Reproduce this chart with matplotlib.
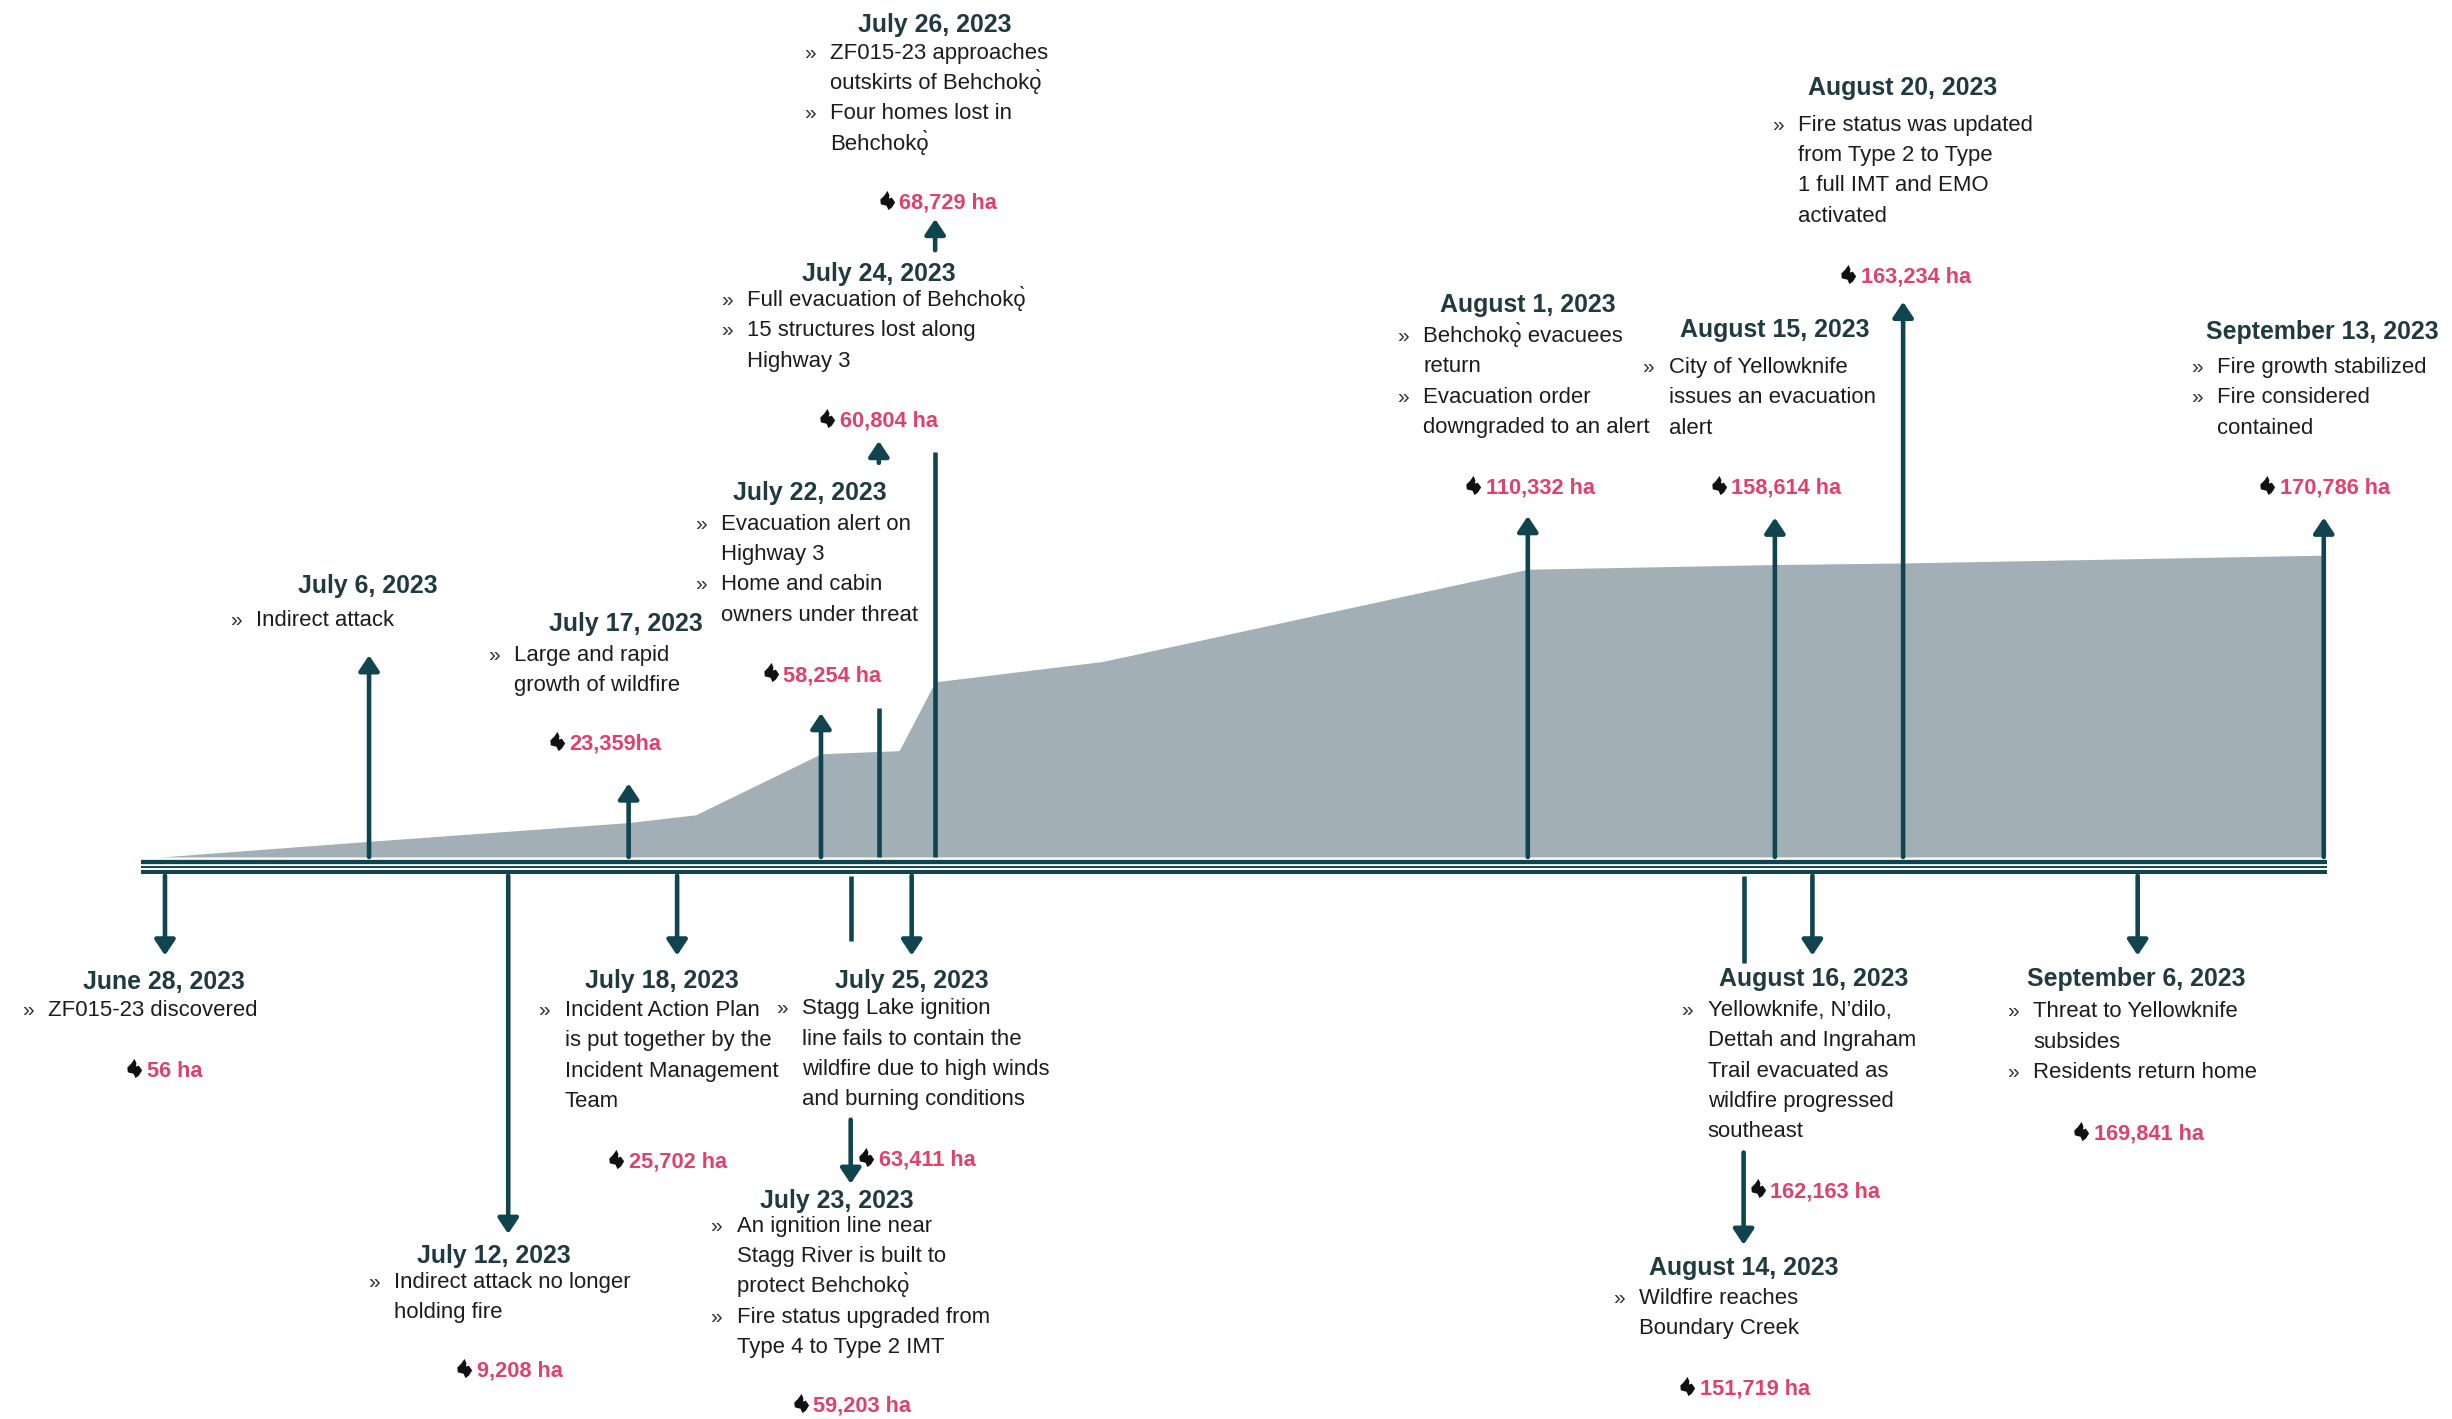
#!/usr/bin/env python3
# timeline of wildfire ZF015-23, x and y are read off the picture (shrunk 1568 wide scale)
import matplotlib
matplotlib.use('Agg')
import matplotlib.pyplot as plt
from matplotlib.path import Path

plt.rcParams['font.family'] = ['Liberation Sans', 'DejaVu Sans']

# burned area outline
area_x = [103, 236, 402, 445, 525, 575, 598, 705, 977, 1135, 1217, 1486]
area_y = [548, 538, 526, 521, 482, 480, 436, 423, 364, 361, 360, 355]

dates = ['June 28, 2023', 'July 6, 2023', 'July 12, 2023', 'July 17, 2023', 'July 18, 2023',
         'July 22, 2023', 'July 23, 2023', 'July 24, 2023', 'July 25, 2023', 'July 26, 2023',
         'August 1, 2023', 'August 14, 2023', 'August 15, 2023', 'August 16, 2023',
         'August 20, 2023', 'September 6, 2023', 'September 13, 2023']

# '*' marks a line that gets a bullet
notes = [
    ['*ZF015-23 discovered'],
    ['*Indirect attack'],
    ['*Indirect attack no longer', 'holding fire'],
    ['*Large and rapid', 'growth of wildfire'],
    ['*Incident Action Plan', 'is put together by the', 'Incident Management', 'Team'],
    ['*Evacuation alert on', 'Highway 3', '*Home and cabin', 'owners under threat'],
    ['*An ignition line near', 'Stagg River is built to', 'protect Behchokǫ̀', '*Fire status upgraded from', 'Type 4 to Type 2 IMT'],
    ['*Full evacuation of Behchokǫ̀', '*15 structures lost along', 'Highway 3'],
    ['*Stagg Lake ignition', 'line fails to contain the', 'wildfire due to high winds', 'and burning conditions'],
    ['*ZF015-23 approaches', 'outskirts of Behchokǫ̀', '*Four homes lost in', 'Behchokǫ̀'],
    ['*Behchokǫ̀ evacuees', 'return', '*Evacuation order', 'downgraded to an alert'],
    ['*Wildfire reaches', 'Boundary Creek'],
    ['*City of Yellowknife', 'issues an evacuation', 'alert'],
    ['*Yellowknife, N’dilo,', 'Dettah and Ingraham', 'Trail evacuated as', 'wildfire progressed', 'southeast'],
    ['*Fire status was updated', 'from Type 2 to Type', '1 full IMT and EMO', 'activated'],
    ['*Threat to Yellowknife', 'subsides', '*Residents return home'],
    ['*Fire growth stabilized', '*Fire considered', 'contained'],
]

hectares = ['56 ha', None, '9,208 ha', '23,359ha', '25,702 ha', '58,254 ha', '59,203 ha',
            '60,804 ha', '63,411 ha', '68,729 ha', '110,332 ha', '151,719 ha', '158,614 ha',
            '162,163 ha', '163,234 ha', '169,841 ha', '170,786 ha']

# arrows: x, list of plain stems (y0, y1), arrow (y0, tip)
arrow_x = [105.5, 236, 325, 402, 433, 525, 544, 562, 583, 598, 977, 1115, 1135, 1159, 1217, 1367, 1486]
stems = [[], [], [], [], [], [], [(560, 602)], [(548, 453)], [], [(548, 289)], [], [(560, 616)], [], [], [], [], []]
arrows = [(560, 611), (548, 419), (560, 789), (548, 501), (560, 611), (548, 456), (716, 757), (296, 282),
          (560, 611), (160, 140), (548, 330), (737, 796), (548, 331), (560, 611), (548, 193), (560, 611), (548, 331)]

# layout of the text blocks
date_x = [105, 235, 316, 400, 423, 518, 535, 562, 583, 598, 977, 1115, 1135, 1160, 1217, 1366, 1485]
date_y = [628, 375, 803, 399, 627, 315, 768, 175, 627, 16, 195, 811, 211, 626, 56, 626, 212]
text_x = [31, 164, 252, 329, 361, 461, 471, 478, 513, 531, 910, 1048, 1067, 1092, 1150, 1300, 1418]
text_y = [646, 397, 820, 419, 646, 335, 784, 192, 645, 34, 215, 830, 235, 646, 80, 647, 235]
value_x = [94, None, 305, 364, 402, 501, 520, 537, 562, 575, 950, 1087, 1107, 1132, 1190, 1339, 1458]
value_y = [685, None, 877, 476, 743, 432, 899, 269, 742, 130, 312, 888, 312, 762, 177, 725, 312]

dark = '#10444f'
line_gap = 19.4
baseline_shift = 3.6

flame = Path([(0.0, 1.0), (0.2, 0.55), (0.15, 0.2), (0.45, 0.3), (0.8, -0.2), (0.45, -0.75), (0.1, -1.0),
              (-0.1, -0.55), (-0.7, -0.4), (-0.75, 0.1), (-0.35, 0.5), (0.0, 1.0)], closed=True)

fig = plt.figure(figsize=(24.52, 14.19), dpi=100)
ax = fig.add_axes([0, 0, 1, 1])
ax.set_xlim(0, 1568)
ax.set_ylim(907.4, 0)
ax.axis('off')

ax.fill_between(area_x, area_y, [548] * len(area_x), color='#a2afb7', lw=0, zorder=1)

# triple rule along the bottom of the area
ax.plot([90, 1488], [551, 551], color=dark, lw=3.1, solid_capstyle='butt', zorder=2)
ax.plot([90, 1488], [554.1, 554.1], color=dark, lw=1.4, solid_capstyle='butt', zorder=2)
ax.plot([90, 1488], [557.7, 557.7], color=dark, lw=2.9, solid_capstyle='butt', zorder=2)

for i in range(len(dates)):
    x = arrow_x[i]
    for y0, y1 in stems[i]:
        ax.plot([x, x], [y0, y1], color=dark, lw=3.3, solid_capstyle='butt', zorder=3)
    ax.annotate('', xy=(x, arrows[i][1]), xytext=(x, arrows[i][0]), zorder=3,
                arrowprops=dict(arrowstyle='-|>,head_length=0.42,head_width=0.28', color=dark, lw=3.3,
                                mutation_scale=22, shrinkA=0, shrinkB=0))

    ax.text(date_x[i], date_y[i], dates[i], ha='center', va='center', fontsize=17.9,
            fontweight='bold', color='#1f3a40')
    for j, line in enumerate(notes[i]):
        y = text_y[i] + j * line_gap + baseline_shift
        if line.startswith('*'):
            line = line[1:]
            ax.text(text_x[i] - 13, y, '»', ha='center', va='baseline', fontsize=15, color='#333333')
        ax.text(text_x[i], y, line, ha='left', va='baseline', fontsize=15.9, color='#1c1c1c')

    if hectares[i] is not None:
        ax.text(value_x[i], value_y[i], hectares[i], ha='left', va='center', fontsize=15.7,
                fontweight='bold', color='#e0406a')
        ax.scatter([value_x[i] - 8], [value_y[i] - 2], marker=flame, s=190, color='#111111', lw=0, zorder=4)

fig.savefig('out.png', dpi=100)
